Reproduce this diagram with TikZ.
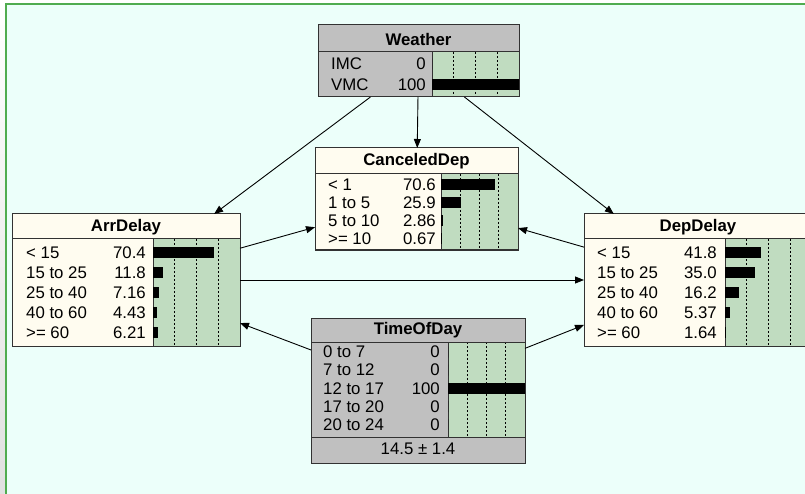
\documentclass[tikz,border=0pt]{standalone}
\usepackage{fontspec}
\setmainfont{Liberation Sans}
\usetikzlibrary{arrows.meta}

\definecolor{paneBg}{RGB}{236,255,250}
\definecolor{paneEdge}{RGB}{80,172,80}
\definecolor{nodeCream}{RGB}{255,252,240}
\definecolor{nodeGray}{RGB}{192,192,192}
\definecolor{barGreen}{RGB}{192,220,192}
\definecolor{nodeLine}{RGB}{50,50,50}

\newcounter{bnrowc}

\tikzset{
  netbox/.style={draw=nodeLine, line width=1pt, rectangle, inner sep=0pt, outer sep=0pt},
  titletext/.style={font=\fontsize{16.8}{18}\selectfont\bfseries, inner sep=0pt},
  statetext/.style={font=\fontsize{16.8}{18}\selectfont, inner sep=0pt},
  tickline/.style={line width=0.9pt, dash pattern=on 2pt off 2pt},
  sepline/.style={draw=nodeLine, line width=1pt},
  link/.style={draw=black, line width=0.9pt, -{Triangle[length=9pt,width=7pt]}},
}

% One state row: #1 label x, #2 value right x, #3 bar x, #4 full bar width,
% #5 row centre y, #6 label, #7 value, #8 percent
\newcommand\bnrow[8]{%
  \stepcounter{bnrowc}%
  \node[statetext, anchor=base west] (s\thebnrowc-name) at (#1,#5+5.8) {#6};
  \node[statetext, anchor=base east] (s\thebnrowc-val) at (#2,#5+5.8) {#7};
  \fill[black] (#3,#5-5.5) rectangle ++({#4*#8/100},11);
}

% Dotted quarter marks of a belief bar area: #1 x, #2 width, #3 top, #4 bottom
\newcommand\bnticks[4]{%
  \foreach \f in {0.25,0.5,0.75}
    \draw[tickline] ({#1+#2*\f},#3) -- ({#1+#2*\f},#4);
}

\begin{document}
\begin{tikzpicture}[x=1pt,y=-1pt]
\useasboundingbox (0,0) rectangle (805,494);
\clip (0,0) rectangle (805,494);

% pane
\fill[paneBg] (0,0) rectangle (805,494);
\fill[white] (0,0) rectangle (805,4);
\shade[top color=white, bottom color=black!12] (0,0) rectangle (4.5,494);
\draw[paneEdge, line width=2pt] (5.8,494) -- (5.8,4.5) -- (805,4.5);

% ---------------- Weather
\fill[nodeGray] (318,25) rectangle (519,97);
\fill[barGreen] (432,52) rectangle (519,97);
\bnticks{432}{87}{52}{97}
\draw[sepline] (318,52) -- (519,52);
\draw[sepline] (432,52) -- (432,97);
\node[titletext] (weather-title) at (418.5,39) {Weather};
\bnrow{331}{426}{432}{87}{64}{IMC}{0}{0}
\bnrow{331}{426}{432}{87}{84.5}{VMC}{100}{100}
\node[netbox, minimum width=201pt, minimum height=72pt] (weather) at (418.5,61) {};

% ---------------- CanceledDep
\fill[nodeCream] (315,148) rectangle (518,250);
\fill[barGreen] (441,174) rectangle (518,250);
\bnticks{441}{77}{174}{250}
\draw[sepline] (315,174) -- (518,174);
\draw[sepline] (441,174) -- (441,250);
\node[titletext] (cdep-title) at (416.5,161.5) {CanceledDep};
\bnrow{328}{436}{441}{77}{185}{< 1}{70.6}{70.6}
\bnrow{328}{436}{441}{77}{203}{1 to 5}{25.9}{25.9}
\bnrow{328}{436}{441}{77}{221}{5 to 10}{2.86}{2.86}
\bnrow{328}{436}{441}{77}{239}{>= 10}{0.67}{0.67}
\node[netbox, minimum width=203pt, minimum height=102pt] (cdep) at (416.5,199) {};

% ---------------- ArrDelay
\fill[nodeCream] (12,214) rectangle (240,346);
\fill[barGreen] (153,239) rectangle (240,346);
\bnticks{153}{87}{239}{346}
\draw[sepline] (12,239) -- (240,239);
\draw[sepline] (153,239) -- (153,346);
\node[titletext] (arr-title) at (126,227) {ArrDelay};
\bnrow{26}{146}{153}{87}{252.5}{< 15}{70.4}{70.4}
\bnrow{26}{146}{153}{87}{272.5}{15 to 25}{11.8}{11.8}
\bnrow{26}{146}{153}{87}{292.5}{25 to 40}{7.16}{7.16}
\bnrow{26}{146}{153}{87}{312.5}{40 to 60}{4.43}{4.43}
\bnrow{26}{146}{153}{87}{332.5}{>= 60}{6.21}{6.21}
\node[netbox, minimum width=228pt, minimum height=132pt] (arr) at (126,280) {};

% ---------------- DepDelay
\fill[nodeCream] (584,214) rectangle (812,346);
\fill[barGreen] (725,239) rectangle (812,346);
\bnticks{725}{87}{239}{346}
\draw[sepline] (584,239) -- (812,239);
\draw[sepline] (725,239) -- (725,346);
\node[titletext] (dep-title) at (698,227) {DepDelay};
\bnrow{597}{717}{725}{87}{252.5}{< 15}{41.8}{41.8}
\bnrow{597}{717}{725}{87}{272.5}{15 to 25}{35.0}{35.0}
\bnrow{597}{717}{725}{87}{292.5}{25 to 40}{16.2}{16.2}
\bnrow{597}{717}{725}{87}{312.5}{40 to 60}{5.37}{5.37}
\bnrow{597}{717}{725}{87}{332.5}{>= 60}{1.64}{1.64}
\node[netbox, minimum width=228pt, minimum height=132pt] (dep) at (698,280) {};

% ---------------- TimeOfDay
\fill[nodeGray] (311,318) rectangle (525,463);
\fill[barGreen] (448,342) rectangle (525,437);
\bnticks{448}{77}{342}{437}
\draw[sepline] (311,342) -- (525,342);
\draw[sepline] (448,342) -- (448,437);
\draw[sepline] (311,437) -- (525,437);
\node[titletext] (tod-title) at (418,330.5) {TimeOfDay};
\bnrow{323}{440}{448}{77}{352}{0 to 7}{0}{0}
\bnrow{323}{440}{448}{77}{370}{7 to 12}{0}{0}
\bnrow{323}{440}{448}{77}{388.5}{12 to 17}{100}{100}
\bnrow{323}{440}{448}{77}{406.5}{17 to 20}{0}{0}
\bnrow{323}{440}{448}{77}{424.5}{20 to 24}{0}{0}
\node[statetext] (tod-mean) at (418,449) {14.5 ± 1.4};
\node[netbox, minimum width=214pt, minimum height=145pt] (tod) at (418,390.5) {};

% ---------------- links
\draw[link] (weather) -- (arr);
\draw[link] (weather) -- (cdep);
\draw[link] (weather) -- (dep);
\draw[link] (arr) -- (cdep);
\draw[link] (dep) -- (cdep);
\draw[link] (arr) -- (dep);
\draw[link] (tod) -- (arr);
\draw[link] (tod) -- (dep);
\end{tikzpicture}
\end{document}
